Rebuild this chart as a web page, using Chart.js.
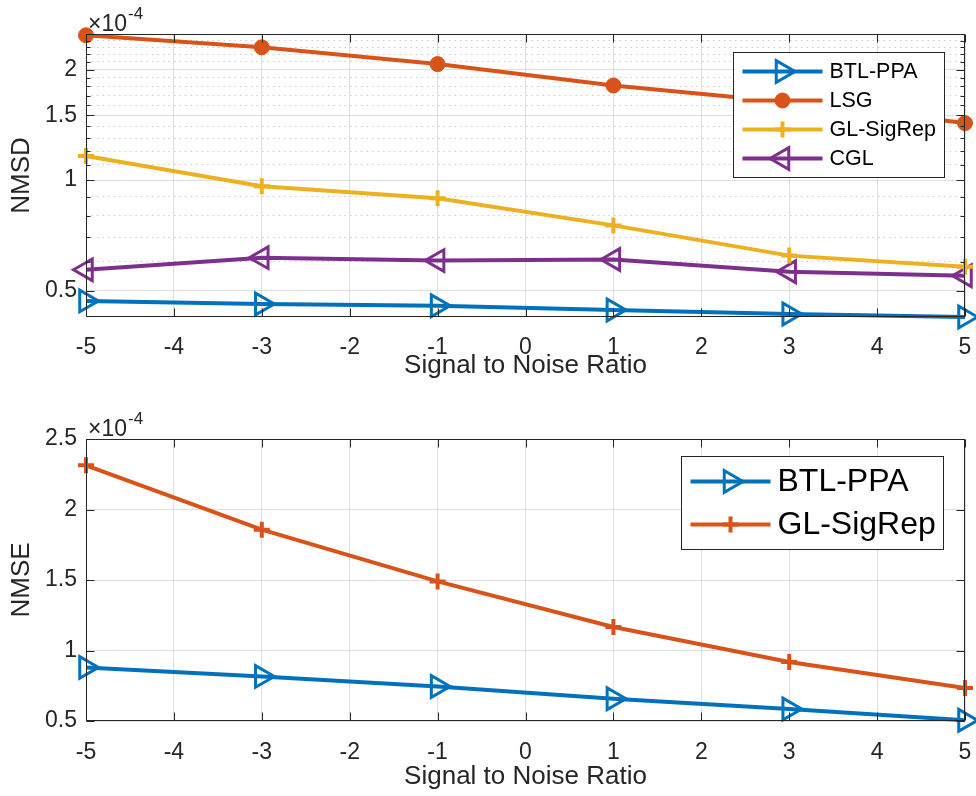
<!DOCTYPE html>
<html>
<head>
<meta charset="utf-8">
<script src="https://cdn.jsdelivr.net/npm/chart.js@4.4.0/dist/chart.umd.min.js"></script>
<style>
  html, body { margin: 0; padding: 0; background: #fff; }
  #top { position: absolute; left: 0; top: 0; width: 976px; height: 400px; }
  #bottom { position: absolute; left: 0; top: 400px; width: 976px; height: 396px; }
</style>
</head>
<body>
<div id="top"><canvas id="nmsd"></canvas></div>
<div id="bottom"><canvas id="nmse"></canvas></div>
<script>
const snr = [-5, -3, -1, 1, 3, 5];
const snrTicks = [-5, -4, -3, -2, -1, 0, 1, 2, 3, 4, 5];

// top plot, log axis
const nmsdBtl = [0.469e-4, 0.460e-4, 0.455e-4, 0.443e-4, 0.432e-4, 0.424e-4];
const nmsdLsg = [2.48e-4, 2.30e-4, 2.07e-4, 1.81e-4, 1.63e-4, 1.43e-4];
const nmsdGl = [1.163e-4, 0.963e-4, 0.893e-4, 0.753e-4, 0.623e-4, 0.581e-4];
const nmsdCgl = [0.570e-4, 0.615e-4, 0.604e-4, 0.608e-4, 0.563e-4, 0.549e-4];
const nmsdTicks = [0.5e-4, 1e-4, 1.5e-4, 2e-4];
const nmsdMinor = [0.6e-4, 0.7e-4, 0.8e-4, 0.9e-4, 1.1e-4, 1.2e-4, 1.3e-4, 1.4e-4,
  1.6e-4, 1.7e-4, 1.8e-4, 1.9e-4, 2.1e-4, 2.2e-4, 2.3e-4, 2.4e-4];

// bottom plot
const nmseBtl = [0.880e-4, 0.816e-4, 0.745e-4, 0.658e-4, 0.585e-4, 0.505e-4];
const nmseGl = [2.313e-4, 1.857e-4, 1.490e-4, 1.167e-4, 0.918e-4, 0.734e-4];
const nmseTicks = [0.5e-4, 1e-4, 1.5e-4, 2e-4, 2.5e-4];

const FONT = '"Liberation Sans", Arial, Helvetica, sans-serif';
const AX = '#262626';
const BLUE = '#0072BD', ORANGE = '#D95319', YELLOW = '#EDB120', PURPLE = '#7E2F8E';

const pts = ys => snr.map((x, i) => ({ x, y: ys[i] }));
const fmt = v => String(+(v * 1e4).toFixed(2));

function series(label, ys, color, style, extra) {
  return Object.assign({
    label, data: pts(ys),
    borderColor: color, borderWidth: 4,
    pointStyle: style, pointRotation: 0, pointRadius: 12.5,
    pointBorderColor: color, pointBackgroundColor: 'rgba(0,0,0,0)',
    pointBorderWidth: 3, pointHoverRadius: 12.5,
    tension: 0, clip: false
  }, extra || {});
}

// box, inward ticks on all four sides
const frame = {
  id: 'frame',
  afterDatasetsDraw(chart) {
    const { ctx, chartArea: a, scales } = chart;
    const L = Math.round(a.left) + 0.5, R = Math.round(a.right) - 0.5;
    const T = Math.round(a.top) + 0.5, B = Math.round(a.bottom) - 0.5;
    ctx.save();
    ctx.strokeStyle = AX;
    ctx.lineWidth = 1;
    ctx.beginPath();
    scales.x.ticks.forEach(t => {
      const px = Math.round(scales.x.getPixelForValue(t.value)) + 0.5;
      ctx.moveTo(px, B); ctx.lineTo(px, B - 8);
      ctx.moveTo(px, T); ctx.lineTo(px, T + 8);
    });
    scales.y.ticks.forEach(t => {
      const py = Math.round(scales.y.getPixelForValue(t.value)) + 0.5;
      ctx.moveTo(L, py); ctx.lineTo(L + 8, py);
      ctx.moveTo(R, py); ctx.lineTo(R - 8, py);
    });
    if (scales.yMinor) {
      scales.yMinor.ticks.forEach(t => {
        const py = Math.round(scales.yMinor.getPixelForValue(t.value)) + 0.5;
        ctx.moveTo(L, py); ctx.lineTo(L + 4, py);
        ctx.moveTo(R, py); ctx.lineTo(R - 4, py);
      });
    }
    ctx.stroke();
    ctx.strokeRect(L, T, R - L, B - T);
    // x10^-4 exponent
    ctx.fillStyle = AX;
    ctx.textBaseline = 'alphabetic';
    ctx.textAlign = 'left';
    ctx.font = '23px ' + FONT;
    ctx.fillText('\u00d710', a.left + 2, a.top - 3);
    const w = ctx.measureText('\u00d710').width;
    ctx.font = '17px ' + FONT;
    ctx.fillText('-4', a.left + 3 + w, a.top - 15);
    ctx.restore();
  }
};

const boxLegend = {
  id: 'boxLegend',
  afterDraw(chart, args, o) {
    const { ctx, chartArea: a } = chart;
    const sets = chart.data.datasets;
    ctx.save();
    ctx.font = o.fontSize + 'px ' + FONT;
    const textW = Math.max(...sets.map(d => ctx.measureText(d.label).width));
    const w = Math.round(o.textX + textW + o.padRight);
    const h = o.edge * 2 + o.rowGap * (sets.length - 1);
    const x = Math.round(a.right - o.right - w) + 0.5;
    const y = Math.round(a.top + o.top) + 0.5;
    ctx.fillStyle = '#fff';
    ctx.fillRect(x, y, w, h);
    ctx.strokeStyle = AX;
    ctx.lineWidth = 1;
    ctx.strokeRect(x, y, w, h);
    sets.forEach((d, i) => {
      const cy = y + o.edge + i * o.rowGap;
      ctx.strokeStyle = d.borderColor;
      ctx.lineWidth = d.borderWidth;
      ctx.beginPath();
      ctx.moveTo(x + o.lineX0, cy);
      ctx.lineTo(x + o.lineX1, cy);
      ctx.stroke();
      ctx.fillStyle = d.pointBackgroundColor;
      ctx.strokeStyle = d.pointBorderColor;
      ctx.lineWidth = d.pointBorderWidth;
      if (Chart.helpers && Chart.helpers.drawPoint) {
        Chart.helpers.drawPoint(ctx, {
          pointStyle: d.pointStyle, rotation: d.pointRotation,
          radius: d.pointRadius, borderWidth: d.pointBorderWidth
        }, x + (o.lineX0 + o.lineX1) / 2, cy);
      }
      ctx.fillStyle = '#000';
      ctx.textBaseline = 'middle';
      ctx.textAlign = 'left';
      ctx.fillText(d.label, x + o.textX, cy + 1);
    });
    ctx.restore();
  }
};

// tick padding stays small (it feeds the scale's side padding); a tall line height pushes labels down instead
function xAxis(height, titlePad, lh) {
  return {
    type: 'linear', min: -5, max: 5,
    afterBuildTicks: s => { s.ticks = snrTicks.map(v => ({ value: v })); },
    afterFit: s => { s.height = height; },
    grid: { color: '#dedede', lineWidth: 1, drawTicks: false },
    border: { display: false },
    ticks: { color: AX, font: { family: FONT, size: 23, lineHeight: lh }, padding: 3, maxRotation: 0 },
    title: { display: true, text: 'Signal to Noise Ratio', color: AX,
      font: { family: FONT, size: 26 }, padding: { top: 0, bottom: titlePad } }
  };
}

function yTitle(text) {
  return { display: true, text, color: AX, font: { family: FONT, size: 26 },
    padding: { top: 6, bottom: 0 } };
}

Chart.defaults.animation = false;
Chart.defaults.plugins.tooltip.enabled = false;
Chart.defaults.plugins.legend.display = false;

new Chart(document.getElementById('nmsd'), {
  type: 'line',
  data: {
    datasets: [
      series('BTL-PPA', nmsdBtl, BLUE, 'triangle', { pointRotation: 90 }),
      series('LSG', nmsdLsg, ORANGE, 'circle', { pointRadius: 7.5, pointBackgroundColor: ORANGE, pointBorderWidth: 1 }),
      series('GL-SigRep', nmsdGl, YELLOW, 'cross', { pointRadius: 8, pointBorderWidth: 4 }),
      series('CGL', nmsdCgl, PURPLE, 'triangle', { pointRotation: -90 })
    ]
  },
  options: {
    responsive: true, maintainAspectRatio: false,
    layout: { autoPadding: false, padding: { top: 34, right: 11, left: 0, bottom: 0 } },
    scales: {
      x: xAxis(83, 19, 2.42),
      y: {
        type: 'logarithmic', min: 0.424e-4, max: 2.5e-4, position: 'left',
        afterBuildTicks: s => { s.ticks = nmsdTicks.map(v => ({ value: v })); },
        afterFit: s => { s.width = 86; },
        grid: { color: '#dedede', lineWidth: 1, drawTicks: false },
        border: { display: false },
        ticks: { color: AX, font: { family: FONT, size: 23 }, padding: 9, callback: fmt },
        title: yTitle('NMSD')
      },
      yMinor: {
        type: 'logarithmic', min: 0.424e-4, max: 2.5e-4, position: 'left',
        afterBuildTicks: s => { s.ticks = nmsdMinor.map(v => ({ value: v })); },
        afterFit: s => { s.width = 0; },
        grid: { color: '#cdcdcd', lineWidth: 1, drawTicks: false, borderDash: [1.5, 4] },
        border: { display: false, dash: [1.5, 4] },
        ticks: { display: false }
      }
    },
    plugins: {
      boxLegend: { fontSize: 21.5, edge: 19, rowGap: 29, lineX0: 9, lineX1: 89, textX: 96, padRight: 9, right: 21, top: 18 }
    }
  },
  plugins: [frame, boxLegend]
});

new Chart(document.getElementById('nmse'), {
  type: 'line',
  data: {
    datasets: [
      series('BTL-PPA', nmseBtl, BLUE, 'triangle', { pointRotation: 90 }),
      series('GL-SigRep', nmseGl, ORANGE, 'cross', { pointRadius: 8, pointBorderWidth: 4 })
    ]
  },
  options: {
    responsive: true, maintainAspectRatio: false,
    layout: { autoPadding: false, padding: { top: 39, right: 11, left: 0, bottom: 0 } },
    scales: {
      x: xAxis(75, 4, 2.5),
      y: {
        type: 'linear', min: 0.5e-4, max: 2.5e-4, position: 'left',
        afterBuildTicks: s => { s.ticks = nmseTicks.map(v => ({ value: v })); },
        afterFit: s => { s.width = 86; },
        grid: { color: '#dedede', lineWidth: 1, drawTicks: false },
        border: { display: false },
        ticks: { color: AX, font: { family: FONT, size: 23 }, padding: 9, callback: fmt },
        title: yTitle('NMSE')
      }
    },
    plugins: {
      boxLegend: { fontSize: 32, edge: 25, rowGap: 43, lineX0: 9, lineX1: 89, textX: 96, padRight: 8, right: 22, top: 17 }
    }
  },
  plugins: [frame, boxLegend]
});
</script>
</body>
</html>
